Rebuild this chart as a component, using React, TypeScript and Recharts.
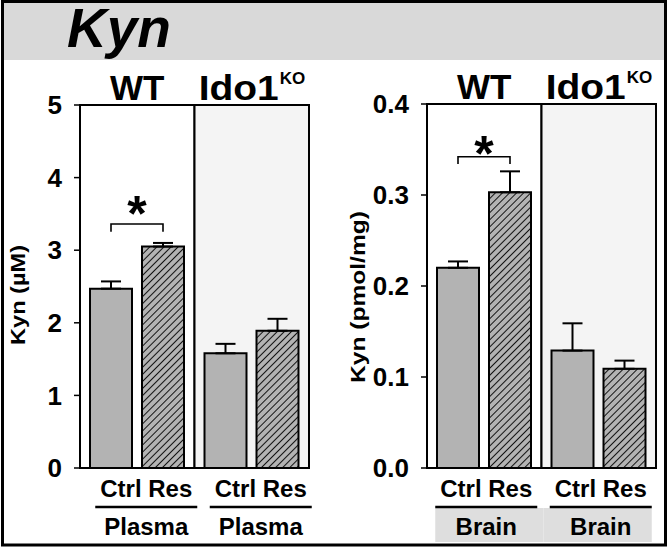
import React from "react";
import { Bar, BarChart, ErrorBar, ReferenceArea, XAxis, YAxis } from "recharts";

const groups = ["WT", "KO"];
const plasmaCtrl = [2.47, 1.58];
const plasmaCtrlErr = [0.1, 0.13];
const plasmaRes = [3.05, 1.89];
const plasmaResErr = [0.05, 0.165];
const brainCtrl = [0.22, 0.129];
const brainCtrlErr = [0.007, 0.03];
const brainRes = [0.303, 0.109];
const brainResErr = [0.023, 0.009];
const plasmaTicks = [0, 1, 2, 3, 4, 5];
const brainTicks = [0, 0.1, 0.2, 0.3, 0.4];
// significance bracket: [bracket level, bracket foot, star centre], data units
const plasmaSig = [3.36, 3.255, 3.66];
const brainSig = [0.342, 0.334, 0.358];

const FONT = '"Liberation Sans", Arial, Helvetica, sans-serif';
const BAR_SIZE = 42;
const BAR_GAP = 10;
const CTRL_FILL = "#b3b3b3";

const makeRows = (ctrl: number[], ctrlErr: number[], res: number[], resErr: number[]) =>
  groups.map((g, i) => ({
    group: g,
    ctrl: ctrl[i],
    ctrlErr: [0, ctrlErr[i]],
    res: res[i],
    resErr: [0, resErr[i]],
  }));

const plasmaRows = makeRows(plasmaCtrl, plasmaCtrlErr, plasmaRes, plasmaResErr);
const brainRows = makeRows(brainCtrl, brainCtrlErr, brainRes, brainResErr);

function GroupTick(props: any) {
  const { x, y, payload } = props;
  const base = y - 5;
  if (payload.value === "WT") {
    return (
      <text x={x} y={base} textAnchor="middle" fontSize={35} fontWeight="bold" fontFamily={FONT} fill="#000">
        WT
      </text>
    );
  }
  return (
    <g fontFamily={FONT} fontWeight="bold" fill="#000">
      <text x={x - 53} y={base} fontSize={35} textLength={80} lengthAdjust="spacingAndGlyphs">
        Ido1
      </text>
      <text x={x + 28} y={base - 16.5} fontSize={17}>
        KO
      </text>
    </g>
  );
}

function TissueTick(props: any) {
  const { x, y, payload, shift, tissue, shaded } = props;
  const cx = x + shift;
  const i = payload?.index ?? props.index ?? 0;
  return (
    <g fontFamily={FONT} fontWeight="bold" fill="#000">
      {shaded && (
        <rect x={i === 0 ? cx - 51 : cx - 57.25} y={y + 40} width={108.25} height={34} fill="#dedede" />
      )}
      <text x={cx} y={y + 29} textAnchor="middle" fontSize={24}>
        Ctrl Res
      </text>
      <line x1={cx - 51} x2={cx + 51} y1={y + 39} y2={y + 39} stroke="#000" strokeWidth={2.5} />
      <text x={cx} y={y + 67} textAnchor="middle" fontSize={24}>
        {tissue}
      </text>
    </g>
  );
}

function YTitle(props: any) {
  const { viewBox, text, base, len, shiftY } = props;
  const vb = viewBox || { x: 0, y: 0, width: 0, height: 0 };
  const cx = vb.x + base;
  const cy = vb.y + vb.height / 2 + shiftY;
  return (
    <text
      x={cx}
      y={cy}
      transform={`rotate(-90 ${cx} ${cy})`}
      textAnchor="middle"
      fontSize={21}
      fontWeight="bold"
      fontFamily={FONT}
      fill="#000"
      textLength={len}
      lengthAdjust="spacingAndGlyphs"
    >
      {text}
    </text>
  );
}

const sigLabel = (sig: number[]) => (props: any) => {
  const { x, y, width, height, value, index } = props;
  if (index !== 0) return null;
  const v = Number(value);
  const bottom = Number(y) + Number(height);
  const k = Number(height) / v;
  const py = (d: number) => bottom - d * k;
  const x2 = Number(x) + Number(width) / 2;
  const x1 = x2 - Number(width) - BAR_GAP;
  const F = 50;
  return (
    <g>
      <path
        d={`M${x1},${py(sig[1])}V${py(sig[0])}H${x2}V${py(sig[1])}`}
        fill="none"
        stroke="#000"
        strokeWidth={1.6}
      />
      <text
        x={(x1 + x2) / 2}
        y={py(sig[2]) + 0.58 * F}
        textAnchor="middle"
        fontSize={F}
        fontWeight="bold"
        fontFamily={FONT}
        fill="#000"
      >
        *
      </text>
    </g>
  );
};

function Panel(props: any) {
  const { rows, ticks, max, fmt, yTitle, titleBase, titleLen, titleShift, tissue, shaded, shift, sig, yWidth, right, top } = props;
  return (
    <BarChart
      width={335}
      height={549}
      data={rows}
      barSize={BAR_SIZE}
      barGap={BAR_GAP}
      margin={{ top: top, right: right, bottom: 6, left: 0 }}
    >
      <XAxis
        dataKey="group"
        axisLine={false}
        tickLine={false}
        tickSize={0}
        tickMargin={0}
        height={75}
        interval={0}
        tick={<TissueTick shift={shift} tissue={tissue} shaded={shaded} />}
      />
      <XAxis
        xAxisId="top"
        orientation="top"
        dataKey="group"
        axisLine={false}
        tickLine={false}
        tickSize={0}
        tickMargin={0}
        height={45}
        interval={0}
        tick={<GroupTick />}
      />
      <YAxis
        domain={[0, max]}
        ticks={ticks}
        width={yWidth}
        axisLine={false}
        tickLine={{ stroke: "#000", strokeWidth: 1.5 }}
        tickSize={6}
        tickMargin={12}
        tickFormatter={fmt}
        tick={{ fill: "#000", fontSize: 26, fontWeight: "bold", fontFamily: FONT }}
        label={<YTitle text={yTitle} base={titleBase} len={titleLen} shiftY={titleShift} />}
      />
      <ReferenceArea x1="WT" x2="WT" y1={0} y2={max} fill="#ffffff" fillOpacity={1} stroke="#000" strokeWidth={2} />
      <ReferenceArea x1="KO" x2="KO" y1={0} y2={max} fill="#f4f4f4" fillOpacity={1} stroke="#000" strokeWidth={2} />
      <Bar dataKey="ctrl" fill={CTRL_FILL} stroke="#000" strokeWidth={2} isAnimationActive={false}>
        <ErrorBar dataKey="ctrlErr" direction="y" width={10} stroke="#000" strokeWidth={2} />
      </Bar>
      <Bar dataKey="res" fill="url(#hatch)" stroke="#000" strokeWidth={2} isAnimationActive={false} label={sigLabel(sig)}>
        <ErrorBar dataKey="resErr" direction="y" width={10} stroke="#000" strokeWidth={2} />
      </Bar>
    </BarChart>
  );
}

export default function App() {
  return (
    <div
      style={{
        position: "absolute",
        left: 0,
        top: 0,
        width: 669,
        height: 549,
        background: "#fff",
        overflow: "hidden",
        fontFamily: FONT,
      }}
    >
      <div style={{ position: "absolute", left: 0, top: 0 }}>
        <Panel
          rows={plasmaRows}
          ticks={plasmaTicks}
          max={5}
          fmt={(v: number) => String(v)}
          yTitle="Kyn (µM)"
          titleBase={25}
          titleLen={100}
          titleShift={8.5}
          tissue="Plasma"
          shaded={false}
          shift={9}
          sig={plasmaSig}
          yWidth={80}
          right={26}
          top={60}
        />
      </div>
      <div style={{ position: "absolute", left: 334, top: 0 }}>
        <Panel
          rows={brainRows}
          ticks={brainTicks}
          max={0.4}
          fmt={(v: number) => v.toFixed(1)}
          yTitle="Kyn (pmol/mg)"
          titleBase={31}
          titleLen={172}
          titleShift={11}
          tissue="Brain"
          shaded={true}
          shift={2}
          sig={brainSig}
          yWidth={93}
          right={13}
          top={59}
        />
      </div>
      <svg width={669} height={549} style={{ position: "absolute", left: 0, top: 0, pointerEvents: "none" }}>
        <defs>
          <pattern id="hatch" patternUnits="userSpaceOnUse" width={5} height={5} patternTransform="rotate(45)">
            <rect width={5} height={5} fill={CTRL_FILL} />
            <line x1={0} y1={0} x2={0} y2={5} stroke="#000" strokeWidth={1.8} />
          </pattern>
        </defs>
        <rect x={4} y={3} width={660} height={57} fill="#d9d9d9" />
        <text x={67} y={47} fontSize={55} fontWeight="bold" fontStyle="italic" fontFamily={FONT} fill="#000">
          Kyn
        </text>
        <rect x={2.5} y={1.5} width={663} height={543.5} fill="none" stroke="#000" strokeWidth={3} />
      </svg>
    </div>
  );
}
